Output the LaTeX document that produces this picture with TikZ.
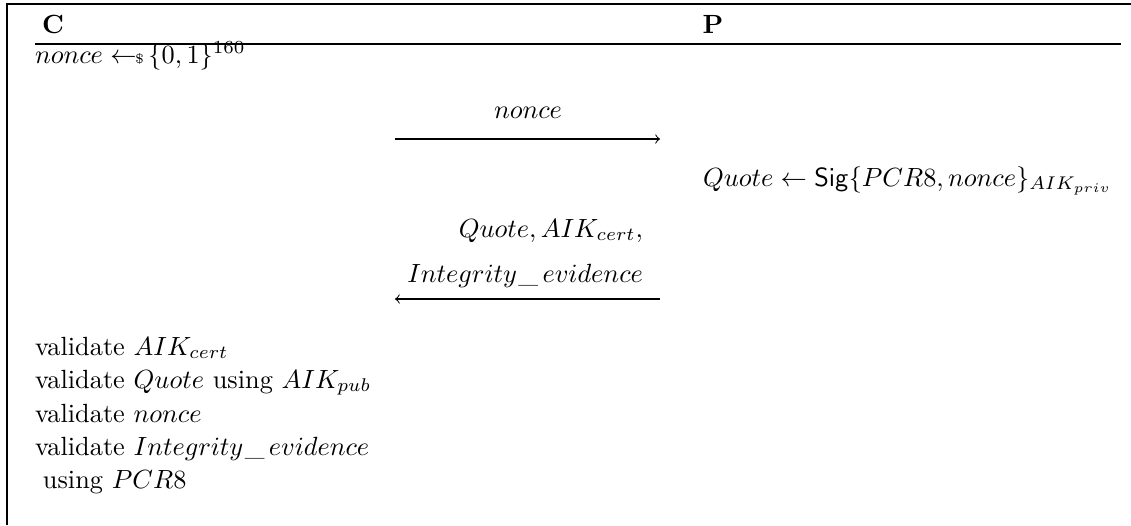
\documentclass[tikz,border=0pt]{standalone}
\usepackage{amsmath}
\newcommand{\smp}{\gets\!\!\mbox{\tiny\$}\,}
\newcommand{\us}{\mkern1mu\mbox{\textunderscore}\mkern3mu}
\begin{document}
\begin{tikzpicture}[x=0.38pt,y=-0.38pt,
  txt/.style={inner sep=0pt,outer sep=0pt},
  frameline/.style={line width=0.5pt},
  msg/.style={line width=0.4pt,-to}]
\useasboundingbox (0,0) rectangle (1131,525);
% frame and header rule
\coordinate (tl) at (7,4);
\coordinate (tr) at (1131,4);
\coordinate (bl) at (7,525);
\draw[frameline] (tr) -- (tl) -- (bl);
\coordinate (hrs) at (35,44);
\coordinate (hre) at (1121,44);
\draw[frameline] (hrs) -- (hre);
% parties
\node[txt,anchor=base] (C) at (53,33) {$\mathbf{C}$};
\node[txt,anchor=base] (P) at (713,33) {$\mathbf{P}$};
% client samples nonce
\node[txt,anchor=base west] (init) at (35,63) {$nonce \smp \{0,1\}^{160}$};
% first message
\node[txt,anchor=base] (m1) at (528,118) {$nonce$};
\coordinate (a1s) at (395,139);
\coordinate (a1e) at (660,139);
\draw[msg] (a1s) -- (a1e);
% prover computes quote
\node[txt,anchor=base west] (quote) at (703,186) {$Quote \gets \mathsf{Sig}\{PCR8, nonce\}_{AIK_{priv}}$};
% second message
\node[txt,anchor=base east] (m2a) at (643,237) {$Quote, AIK_{cert},$};
\node[txt,anchor=base east] (m2b) at (643,282) {$Integrity\us evidence$};
\coordinate (a2s) at (660,299);
\coordinate (a2e) at (395,299);
\draw[msg] (a2s) -- (a2e);
% client verification steps
\node[txt,anchor=base west] (v1) at (35,355) {validate $AIK_{cert}$};
\node[txt,anchor=base west] (v2) at (35,388) {validate $Quote$ using $AIK_{pub}$};
\node[txt,anchor=base west] (v3) at (35,422) {validate $nonce$};
\node[txt,anchor=base west] (v4) at (35,455) {validate $Integrity\us evidence$};
\node[txt,anchor=base west] (v5) at (43,488) {using $PCR8$};
\end{tikzpicture}
\end{document}
